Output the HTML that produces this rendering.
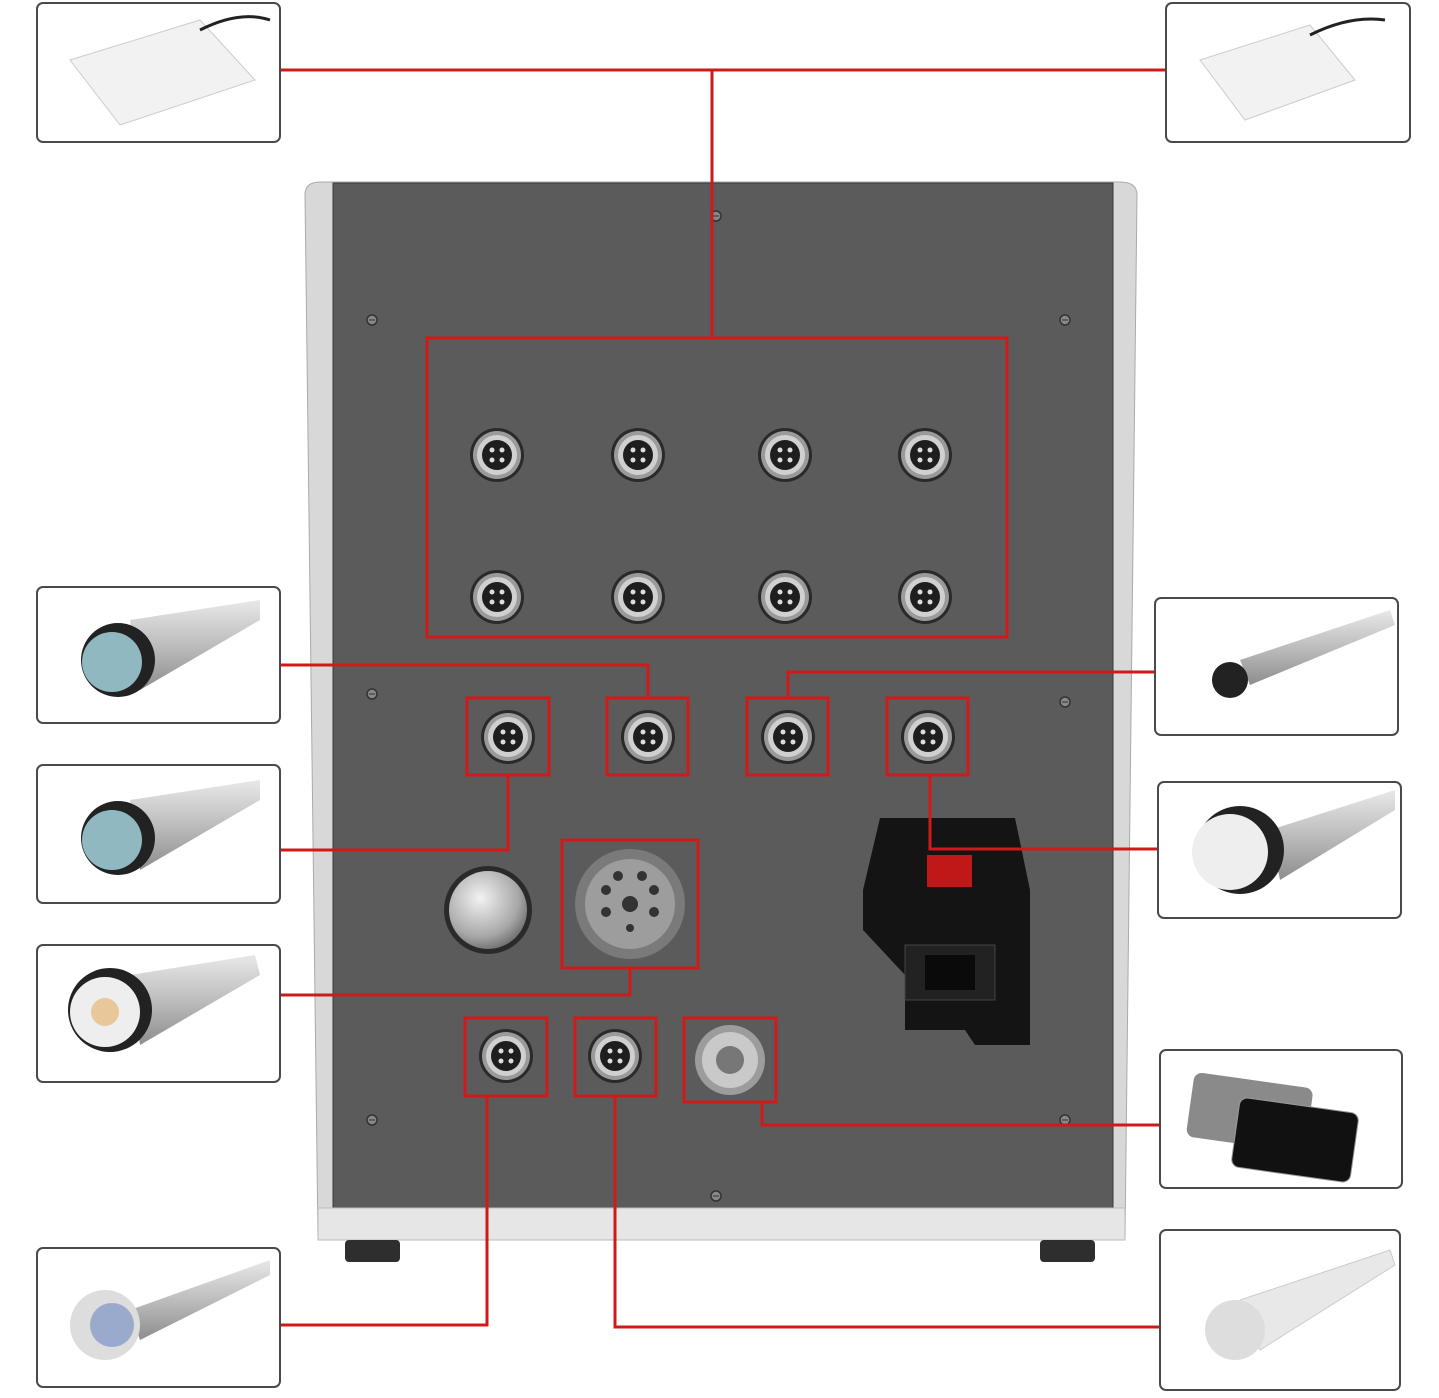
<!DOCTYPE html>
<html><head><meta charset="utf-8"><style>
html,body{margin:0;padding:0;background:#fff;}
svg{display:block;}
</style></head><body>
<svg width="1439" height="1398" viewBox="0 0 1439 1398" xmlns="http://www.w3.org/2000/svg">
<defs>
<radialGradient id="knob" cx="40%" cy="35%" r="70%"><stop offset="0" stop-color="#f2f2f2"/><stop offset="0.7" stop-color="#a8a8a8"/><stop offset="1" stop-color="#6a6a6a"/></radialGradient>
<linearGradient id="metal" x1="0" y1="0" x2="0" y2="1"><stop offset="0" stop-color="#e8e8e8"/><stop offset="0.5" stop-color="#bdbdbd"/><stop offset="1" stop-color="#8d8d8d"/></linearGradient>
<g id="conn">
<circle r="27" fill="#2a2a2a"/><circle r="24" fill="#9a9a9a"/><circle r="20" fill="#d0d0d0"/><circle r="15" fill="#1e1e1e"/>
<circle cx="-5" cy="-5" r="2.5" fill="#ddd"/><circle cx="5" cy="-5" r="2.5" fill="#ddd"/><circle cx="-5" cy="5" r="2.5" fill="#ddd"/><circle cx="5" cy="5" r="2.5" fill="#ddd"/>
</g>
<g id="screw"><circle r="5" fill="#888" stroke="#333" stroke-width="1.5"/><line x1="-3" y1="0" x2="3" y2="0" stroke="#333"/></g>
</defs>

<!-- machine body -->
<path d="M305 195 Q305 182 320 182 L1120 182 Q1137 182 1137 195 L1125 1240 L318 1240 Z" fill="#d8d8d8" stroke="#aaa"/>
<rect x="333" y="183" width="780" height="1025" fill="#5b5b5b" stroke="#3a3a3a"/>
<rect x="318" y="1208" width="807" height="32" fill="#e6e6e6" stroke="#bbb"/>
<rect x="345" y="1240" width="55" height="22" rx="4" fill="#2e2e2e"/>
<rect x="1040" y="1240" width="55" height="22" rx="4" fill="#2e2e2e"/>
<use href="#screw" x="716" y="216"/><use href="#screw" x="372" y="320"/><use href="#screw" x="1065" y="320"/>
<use href="#screw" x="372" y="694"/><use href="#screw" x="1065" y="702"/><use href="#screw" x="372" y="1120"/><use href="#screw" x="1065" y="1120"/><use href="#screw" x="716" y="1196"/>

<!-- connectors -->
<use href="#conn" x="497" y="455"/><use href="#conn" x="638" y="455"/><use href="#conn" x="785" y="455"/><use href="#conn" x="925" y="455"/>
<use href="#conn" x="497" y="597"/><use href="#conn" x="638" y="597"/><use href="#conn" x="785" y="597"/><use href="#conn" x="925" y="597"/>
<use href="#conn" x="508" y="737"/><use href="#conn" x="648" y="737"/><use href="#conn" x="788" y="737"/><use href="#conn" x="928" y="737"/>
<use href="#conn" x="506" y="1056"/><use href="#conn" x="615" y="1056"/>
<!-- DIN -->
<circle cx="730" cy="1060" r="35" fill="#9c9c9c"/><circle cx="730" cy="1060" r="28" fill="#c9c9c9"/><circle cx="730" cy="1060" r="14" fill="#777"/>
<!-- big round connector -->
<circle cx="630" cy="904" r="55" fill="#7a7a7a"/><circle cx="630" cy="904" r="45" fill="#9d9d9d"/><circle cx="630" cy="904" r="8" fill="#333"/>
<g fill="#333"><circle cx="606" cy="890" r="5"/><circle cx="654" cy="890" r="5"/><circle cx="606" cy="912" r="5"/><circle cx="654" cy="912" r="5"/><circle cx="618" cy="876" r="5"/><circle cx="642" cy="876" r="5"/><circle cx="630" cy="928" r="4"/></g>
<!-- knob -->
<circle cx="488" cy="910" r="44" fill="#2a2a2a"/><circle cx="488" cy="910" r="39" fill="url(#knob)"/>
<!-- power module -->
<path d="M880 818 L1015 818 L1030 890 L1030 1045 L975 1045 L965 1030 L905 1030 L905 975 L863 930 L863 890 Z" fill="#141414"/>
<rect x="927" y="855" width="45" height="32" fill="#c01818"/>
<rect x="905" y="945" width="90" height="55" fill="#222" stroke="#444"/>
<rect x="925" y="955" width="50" height="35" fill="#0a0a0a"/>

<!-- red lines -->
<g fill="none" stroke="#d01a1a" stroke-width="3">
<polyline points="280,70 1166,70"/><polyline points="712,70 712,338"/>
<rect x="427" y="338" width="580" height="299"/>
<rect x="467" y="698" width="82" height="77"/><rect x="607" y="698" width="81" height="77"/><rect x="747" y="698" width="81" height="77"/><rect x="887" y="698" width="81" height="77"/>
<polyline points="280,665 648,665 648,698"/><polyline points="1155,672 788,672 788,698"/>
<polyline points="280,850 508,850 508,775"/><polyline points="1158,849 930,849 930,775"/>
<rect x="562" y="840" width="136" height="128"/><polyline points="280,995 630,995 630,968"/>
<rect x="465" y="1018" width="82" height="78"/><rect x="575" y="1018" width="81" height="78"/><rect x="684" y="1018" width="92" height="84"/>
<polyline points="762,1102 762,1125 1160,1125"/><polyline points="487,1096 487,1325 280,1325"/><polyline points="615,1096 615,1327 1160,1327"/>
</g>

<!-- boxes -->
<g fill="#fff" stroke="#4a4a4a" stroke-width="2">
<rect x="37" y="3" width="243" height="139" rx="6"/><rect x="1166" y="3" width="244" height="139" rx="6"/>
<rect x="37" y="587" width="243" height="136" rx="6"/><rect x="37" y="765" width="243" height="138" rx="6"/>
<rect x="37" y="945" width="243" height="137" rx="6"/><rect x="37" y="1248" width="243" height="139" rx="6"/>
<rect x="1155" y="598" width="243" height="137" rx="6"/><rect x="1158" y="782" width="243" height="136" rx="6"/>
<rect x="1160" y="1050" width="242" height="138" rx="6"/><rect x="1160" y="1230" width="240" height="160" rx="6"/>
</g>
<!-- product sketches -->
<g>
<path d="M70 60 L200 20 L255 80 L120 125 Z" fill="#f2f2f2" stroke="#ccc"/><path d="M200 30 Q240 10 270 20" stroke="#222" stroke-width="3" fill="none"/>
<path d="M1200 60 L1310 25 L1355 80 L1245 120 Z" fill="#f2f2f2" stroke="#ccc"/><path d="M1310 35 Q1350 15 1385 20" stroke="#222" stroke-width="3" fill="none"/>
<path d="M130 620 L260 600 L260 620 L140 690 Z" fill="url(#metal)"/><circle cx="118" cy="660" r="37" fill="#222"/><circle cx="112" cy="662" r="30" fill="#8fb8c0"/>
<path d="M130 800 L260 780 L260 800 L140 870 Z" fill="url(#metal)"/><circle cx="118" cy="838" r="37" fill="#222"/><circle cx="112" cy="840" r="30" fill="#8fb8c0"/>
<path d="M130 975 L255 955 L260 975 L140 1045 Z" fill="url(#metal)"/><circle cx="110" cy="1010" r="42" fill="#222"/><circle cx="105" cy="1012" r="35" fill="#eee"/><circle cx="105" cy="1012" r="14" fill="#e8c89a"/>
<path d="M130 1310 L270 1260 L270 1275 L140 1340 Z" fill="url(#metal)"/><circle cx="105" cy="1325" r="35" fill="#ddd"/><circle cx="112" cy="1325" r="22" fill="#9ac"/>
<path d="M1240 660 L1390 610 L1395 625 L1250 685 Z" fill="url(#metal)"/><circle cx="1230" cy="680" r="18" fill="#222"/>
<path d="M1270 830 L1395 790 L1395 810 L1280 880 Z" fill="url(#metal)"/><circle cx="1240" cy="850" r="44" fill="#222"/><circle cx="1230" cy="852" r="38" fill="#eee"/>
<rect x="1190" y="1080" width="120" height="65" rx="8" fill="#8a8a8a" transform="rotate(8 1250 1110)"/><rect x="1235" y="1105" width="120" height="70" rx="8" fill="#111" stroke="#999" transform="rotate(8 1295 1140)"/>
<path d="M1240 1300 L1390 1250 L1395 1265 L1260 1350 Z" fill="#e8e8e8" stroke="#ccc"/><circle cx="1235" cy="1330" r="30" fill="#ddd"/>
</g>
</svg>
</body></html>
